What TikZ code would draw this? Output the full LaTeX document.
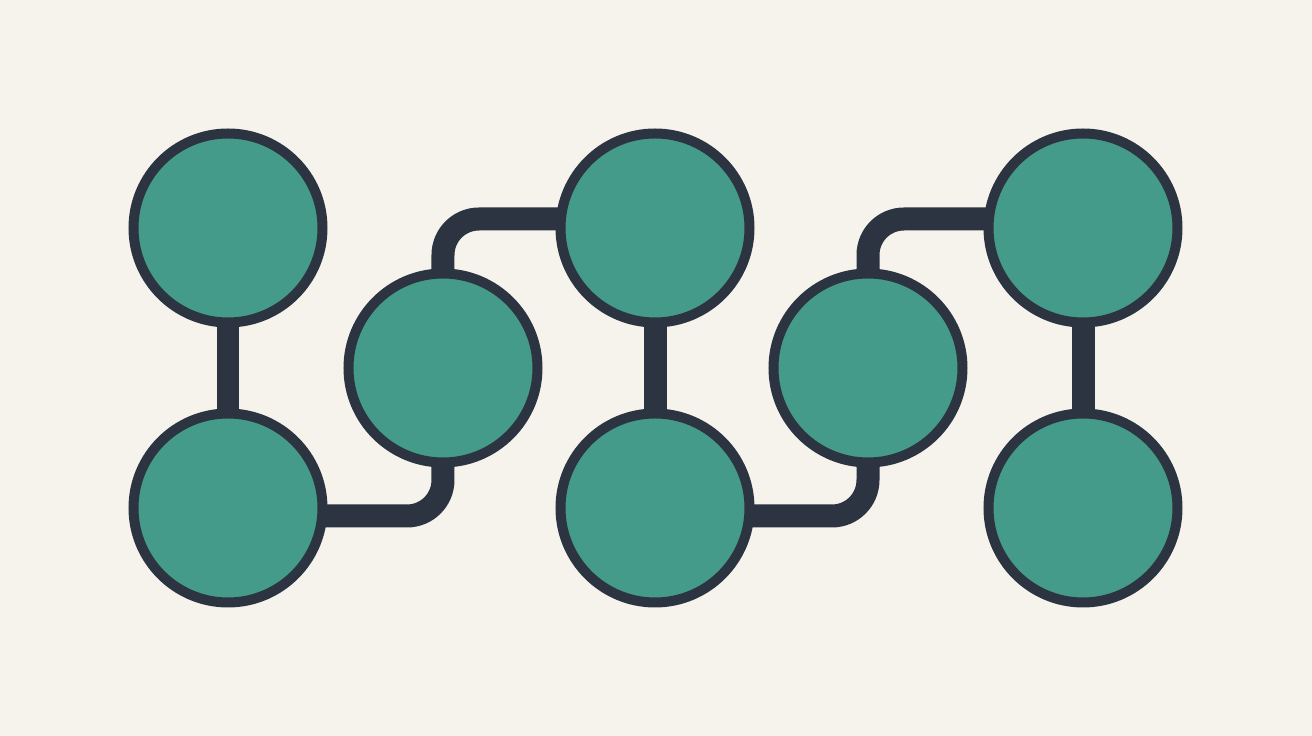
\documentclass[tikz,border=0pt]{standalone}
\usepackage{tikz}
\usepackage{xcolor}
\usetikzlibrary{positioning, backgrounds}
\definecolor{teal}{HTML}{459B89}
\definecolor{navy}{HTML}{2D3441}
\definecolor{paper}{HTML}{F5F3EB}

\begin{document}
\begin{tikzpicture}[on grid, dot/.style={circle, draw=navy, fill=teal, line width=0.1cm, inner sep=0pt, minimum size=1.89cm}, link/.style={draw=navy, line width=0.23cm, rounded corners=0.36cm}]

            \useasboundingbox (0,0) rectangle (13.12,7.36);

            \node[dot] (C1) at (2.28,5.08) {};
            \node[dot, below=2.8cm of C1] (C2) {};
            \node[dot, below right=1.4cm and 2.15cm of C1] (C3) {};
            \node[dot, right=4.27cm of C1] (C4) {};
            \node[dot, below=2.8cm of C4] (C5) {};
            \node[dot, below right=1.4cm and 2.13cm of C4] (C6) {};
            \node[dot, right=4.28cm of C4] (C7) {};
            \node[dot, below=2.8cm of C7] (C8) {};

            \begin{scope}[on background layer]
            \fill[paper] (0,0) rectangle (13.12,7.36);

            \path[link]
            (C1.center) -- (C2.center)
            (C4.center) -- (C5.center)
            (C7.center) -- (C8.center)
            ;
            \path[link] ([yshift=-0.08cm]C2.center) -| (C3.center);
            \path[link] (C3.center) |- ([yshift=0.09cm]C4.center);
            \path[link] ([yshift=-0.08cm]C5.center) -| (C6.center);
            \path[link] (C6.center) |- ([yshift=0.09cm]C7.center);
            \end{scope}

        \end{tikzpicture}
\end{document}
